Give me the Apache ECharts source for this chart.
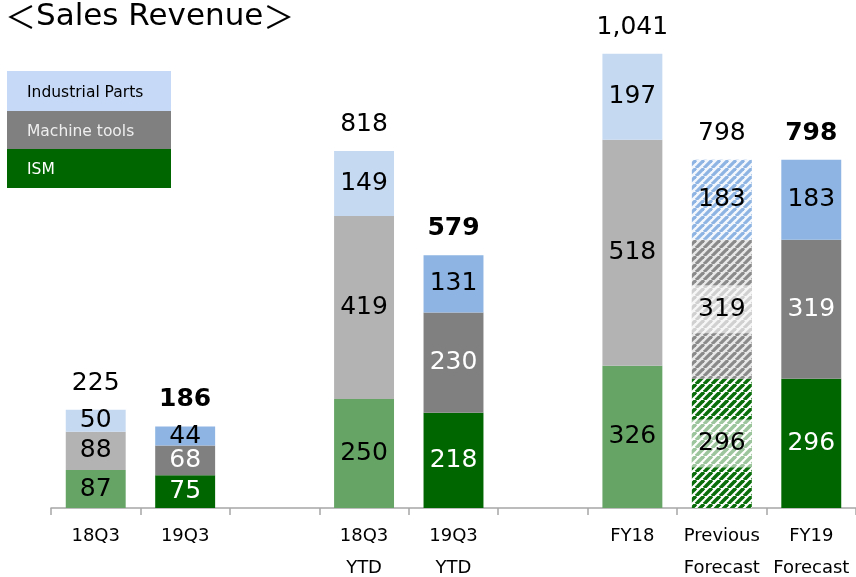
<!DOCTYPE html>
<html><head><meta charset="utf-8">
<script src="https://cdn.jsdelivr.net/npm/echarts@6/dist/echarts.min.js"></script>
<style>html,body{margin:0;padding:0;background:#fff}#c{width:856px;height:577px}</style>
</head><body><div id="c"></div>
<script>
// ---- data ----
const categories = ['18Q3', '19Q3', '', '18Q3\nYTD', '19Q3\nYTD', '', 'FY18', 'Previous\nForecast', 'FY19\nForecast'];
const ism = [87, 75, '-', 250, 218, '-', 326, 296, 296];
const machineTools = [88, 68, '-', 419, 230, '-', 518, 319, 319];
const industrialParts = [50, 44, '-', 149, 131, '-', 197, 183, 183];
const totalLabels = ['225', '186', '', '818', '579', '', '1,041', '798', '798'];
const seriesNames = ['Industrial Parts', 'Machine tools', 'ISM'];
const titleParts = ['＜', 'Sales Revenue', '＞'];

// ---- styling ----
const columnKind = ['past', 'current', null, 'past', 'current', null, 'past', 'forecast', 'current'];
const FONT = '"DejaVu Sans", Verdana, sans-serif';
const CJK = '"Noto Sans CJK JP", "DejaVu Sans", sans-serif';

function hatch(fg, bg, period, lw) {
  const c = document.createElement('canvas');
  c.width = period; c.height = period;
  const g = c.getContext('2d');
  g.fillStyle = bg; g.fillRect(0, 0, period, period);
  g.strokeStyle = fg; g.lineWidth = lw;
  for (let k = -1; k <= 1; k++) {
    g.beginPath();
    g.moveTo(k * period, period);
    g.lineTo(k * period + period, 0);
    g.stroke();
  }
  return { image: c, repeat: 'repeat' };
}

const palette = {
  parts: { past: '#C5D9F1', current: '#8DB4E2', forecast: hatch('#8DB4E2', '#F4F8FD', 8, 3.2) },
  machine: { past: '#B3B3B3', current: '#808080', forecast: hatch('#8A8A8A', '#E8E8E8', 8, 3.2) },
  ism: { past: '#66A466', current: '#006600', forecast: hatch('#0A6E0A', '#FFFFFF', 8, 3.6) }
};
const darkText = { parts: {}, machine: { current: true }, ism: { current: true } };

function buildData(values, key) {
  return values.map((v, i) => {
    const kind = columnKind[i];
    if (v === '-' || !kind) return '-';
    const lbl = { color: darkText[key][kind] ? '#FFFFFF' : '#000000' };
    if (kind === 'forecast' && key !== 'parts') {
      lbl.backgroundColor = 'rgba(255,255,255,0.6)';
      lbl.width = 60; lbl.height = 48; lbl.align = 'center'; lbl.verticalAlign = 'middle';
      lbl.lineHeight = 48;
    }
    return { value: v, itemStyle: { color: palette[key][kind] }, label: lbl };
  });
}

const segLabel = { show: true, position: 'inside', fontFamily: FONT, fontSize: 25 };

const option = {
  animation: false,
  backgroundColor: '#FFFFFF',
  title: {
    text: '{b|' + titleParts[0] + '}{t|' + titleParts[1] + '}{b|' + titleParts[2] + '}',
    left: 0, top: -4,
    textStyle: {
      fontWeight: 'normal',
      rich: {
        b: { fontFamily: CJK, fontSize: 31, fontWeight: 'normal', color: '#000' },
        t: { fontFamily: FONT, fontSize: 31, fontWeight: 'normal', color: '#000' }
      }
    }
  },
  grid: { left: 51, right: 0, top: 28, bottom: 69, outerBoundsMode: 'none', containLabel: false },
  xAxis: {
    type: 'category', data: categories,
    axisLine: { lineStyle: { color: '#A6A6A6', width: 1.5 } },
    axisTick: { show: true, interval: 0, length: 7, lineStyle: { color: '#A6A6A6', width: 1.5 } },
    axisLabel: { interval: 0, margin: 12, fontFamily: FONT, fontSize: 18, lineHeight: 32, color: '#000' }
  },
  yAxis: { type: 'value', min: 0, max: 1100, show: false, splitLine: { show: false } },
  series: [
    { name: seriesNames[2], type: 'bar', stack: 's', barWidth: '67%', data: buildData(ism, 'ism'), label: segLabel },
    { name: seriesNames[1], type: 'bar', stack: 's', barWidth: '67%', data: buildData(machineTools, 'machine'), label: segLabel },
    { name: seriesNames[0], type: 'bar', stack: 's', barWidth: '67%', data: buildData(industrialParts, 'parts'), label: segLabel },
    {
      name: 'Total', type: 'bar', stack: 's', barWidth: '67%',
      itemStyle: { color: 'transparent' },
      data: totalLabels.map((t, i) => t === '' ? '-' : {
        value: 0,
        label: { fontWeight: (columnKind[i] === 'current') ? 'bold' : 'normal' }
      }),
      label: {
        show: true, position: 'top', distance: 14, fontFamily: FONT, fontSize: 25, color: '#000',
        formatter: p => totalLabels[p.dataIndex]
      }
    }
  ],
  graphic: [
    { type: 'rect', left: 7, top: 71, shape: { width: 164, height: 40 }, style: { fill: '#C6D9F7' } },
    { type: 'rect', left: 7, top: 111, shape: { width: 164, height: 38 }, style: { fill: '#808080' } },
    { type: 'rect', left: 7, top: 149, shape: { width: 164, height: 39 }, style: { fill: '#006600' } },
    { type: 'text', left: 27, top: 85, style: { text: seriesNames[0], fill: '#000', font: '15.5px ' + FONT } },
    { type: 'text', left: 27, top: 124, style: { text: seriesNames[1], fill: '#EEEEEE', font: '15.5px ' + FONT } },
    { type: 'text', left: 27, top: 162, style: { text: seriesNames[2], fill: '#FFFFFF', font: '15.5px ' + FONT } }
  ]
};
echarts.init(document.getElementById('c'), null, { renderer: 'canvas' }).setOption(option);
</script></body></html>
